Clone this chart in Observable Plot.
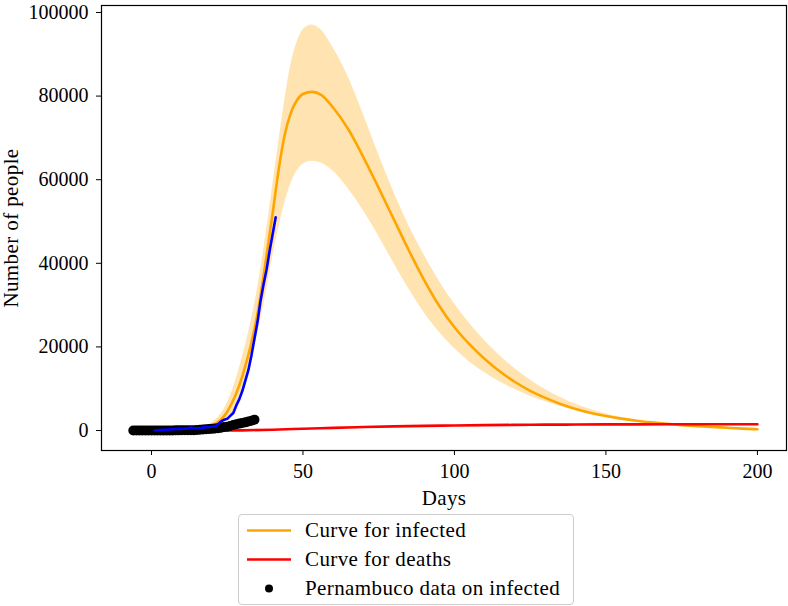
<!DOCTYPE html>
<html><head><meta charset="utf-8">
<script src="https://cdn.jsdelivr.net/npm/d3@7"></script>
<script src="https://cdn.jsdelivr.net/npm/@observablehq/plot@0.6"></script>
<style>
body{margin:0;background:#fff;font-family:"Liberation Serif",serif;}
#wrap{position:relative;width:788px;height:606px;background:#fff;}
#legend{position:absolute;left:238px;top:514px;width:334px;height:89px;border:1px solid #cccccc;border-radius:4px;background:#fff;font-size:21px;letter-spacing:0.4px;color:#000;}
.row{position:absolute;left:0;height:29px;display:flex;align-items:center;white-space:nowrap;}
.row svg{display:block;}
</style></head><body><div id="wrap"></div>
<script>
// ---- data ----
const modelDays = [0,5,10,15,20,25,30,35,38,40,42,44,46,48,50,53,56,60,65,70,75,80,85,90,95,100,105,110,115,120,125,130,135,140,145,150,155,160,165,170,175,180,185,190,195,200];
const infected  = [50,80,150,400,1200,4500,13000,28000,42000,52000,62500,70800,76000,79000,80500,81000,80300,77200,72000,65300,58000,50500,43000,36000,29800,24700,20600,17100,14100,11600,9500,7800,6350,5150,4200,3450,2850,2350,1950,1600,1300,1050,850,650,450,300];
const infectedUpper = [60,110,220,600,1900,6500,17500,34000,48000,58500,69000,79000,87500,92800,95800,97000,95800,91500,84500,75500,66000,57000,49000,42000,35700,30300,25600,21500,17900,14800,12100,9800,7900,6300,5000,3950,3100,2400,1900,1500,1150,850,600,420,280,180];
const infectedLower = [40,60,110,250,700,2500,9000,23000,33500,41500,48500,54500,59000,62000,63700,64400,64000,62000,57800,52500,46500,40000,33800,28200,23500,19600,16400,13800,11600,9800,8200,6900,5800,4800,3950,3250,2650,2200,1800,1500,1250,1050,880,730,600,480];
const deathDays = [0,10,20,25,30,40,50,60,70,80,90,100,110,120,130,140,150,160,170,180,190,200];
const deaths    = [0,0,0,10,40,200,420,640,830,990,1110,1210,1290,1350,1400,1430,1460,1480,1495,1505,1510,1515];
const fitDays = [1,2,3,4,5,6,7,8,9,10,11,12,13,14,15,16,17,18,19,20,21,22,23,24,25,26,27,28,29,30,31,32,33,34,35,36,37,38,39,40,41];
const fitValues = [0,50,100,150,200,250,300,350,400,400,450,500,700,600,550,600,700,800,850,900,1000,1500,2200,2600,2800,3500,4200,6000,7500,9500,12000,14500,18000,22000,26000,31000,35000,38500,43000,47000,51000];
const dataDays = [-6,-5,-4,-3,-2,-1,0,1,2,3,4,5,6,7,8,9,10,11,12,13,14,15,16,17,18,19,20,21,22,23,24,25,26,27,28,29,30,31,32,33,34];
const dataInfected = [0,0,0,0,0,2,2,4,7,16,18,19,28,30,37,42,46,56,68,73,83,116,201,223,287,352,401,474,565,684,826,930,1100,1300,1480,1650,1800,1950,2150,2350,2600];
const xTicks = [0,50,100,150,200];
const yTicks = [0,20000,40000,60000,80000,100000];
const legendLabels = ["Curve for infected","Curve for deaths","Pernambuco data on infected"];

// ---- tables ----
const model = modelDays.map((d,i)=>({day:d, inf:infected[i], lo:infectedLower[i], hi:infectedUpper[i]}));
const death = deathDays.map((d,i)=>({day:d, v:deaths[i]}));
const fit = fitDays.map((d,i)=>({day:d, v:fitValues[i]}));
const obs = dataDays.map((d,i)=>({day:d, v:dataInfected[i]}));

const chart = Plot.plot({
  width: 788,
  height: 512,
  marginLeft: 101,
  marginRight: 2,
  marginTop: 5,
  marginBottom: 62,
  style: {fontFamily: "'Liberation Serif', serif", fontSize: "20px", background: "white", color: "black", overflow: "visible"},
  x: {domain: [-16.5, 209.6], ticks: xTicks, tickFormat: d => String(d), tickSize: 5, tickPadding: 8,
      label: "Days", labelAnchor: "center", labelOffset: 54, labelArrow: false},
  y: {domain: [-4780, 101670], ticks: yTicks, tickFormat: d => String(d), tickSize: 5, tickPadding: 8,
      label: "Number of people", labelAnchor: "center", labelOffset: 98, labelArrow: false},
  marks: [
    Plot.areaY(model, {x: "day", y1: "lo", y2: "hi", fill: "orange", fillOpacity: 0.3, curve: "monotone-x"}),
    Plot.line(model, {x: "day", y: "inf", stroke: "orange", strokeWidth: 2.6, curve: "monotone-x"}),
    Plot.line(death, {x: "day", y: "v", stroke: "red", strokeWidth: 2.6, curve: "monotone-x"}),
    Plot.dot(obs, {x: "day", y: "v", r: 5, fill: "black", stroke: null}),
    Plot.line(fit, {x: "day", y: "v", stroke: "blue", strokeWidth: 2.6}),
    Plot.frame({stroke: "black", strokeWidth: 1.2})
  ]
});
const wrap = document.getElementById("wrap");
wrap.append(chart);
// axis labels: slightly wider lettering like the reference
chart.querySelectorAll("text").forEach(t => {
  if (t.textContent === "Days" || t.textContent === "Number of people") {
    t.setAttribute("font-size", "21px");
    t.setAttribute("letter-spacing", "0.4px");
  }
});

// legend
const legend = document.createElement("div");
legend.id = "legend";
const handles = [
  {type: "line", color: "orange"},
  {type: "line", color: "red"},
  {type: "dot", color: "black"}
];
legendLabels.forEach((lab, i) => {
  const row = document.createElement("div");
  row.className = "row";
  row.style.top = (1 + i * 29) + "px";
  const h = handles[i];
  const inner = h.type === "line"
    ? `<line x1="8" x2="52" y1="14.5" y2="14.5" stroke="${h.color}" stroke-width="2.6"/>`
    : `<circle cx="30" cy="14.5" r="4" fill="${h.color}"/>`;
  row.innerHTML = `<svg width="66" height="29">${inner}</svg><span>${lab}</span>`;
  legend.append(row);
});
wrap.append(legend);
</script>
</body></html>
